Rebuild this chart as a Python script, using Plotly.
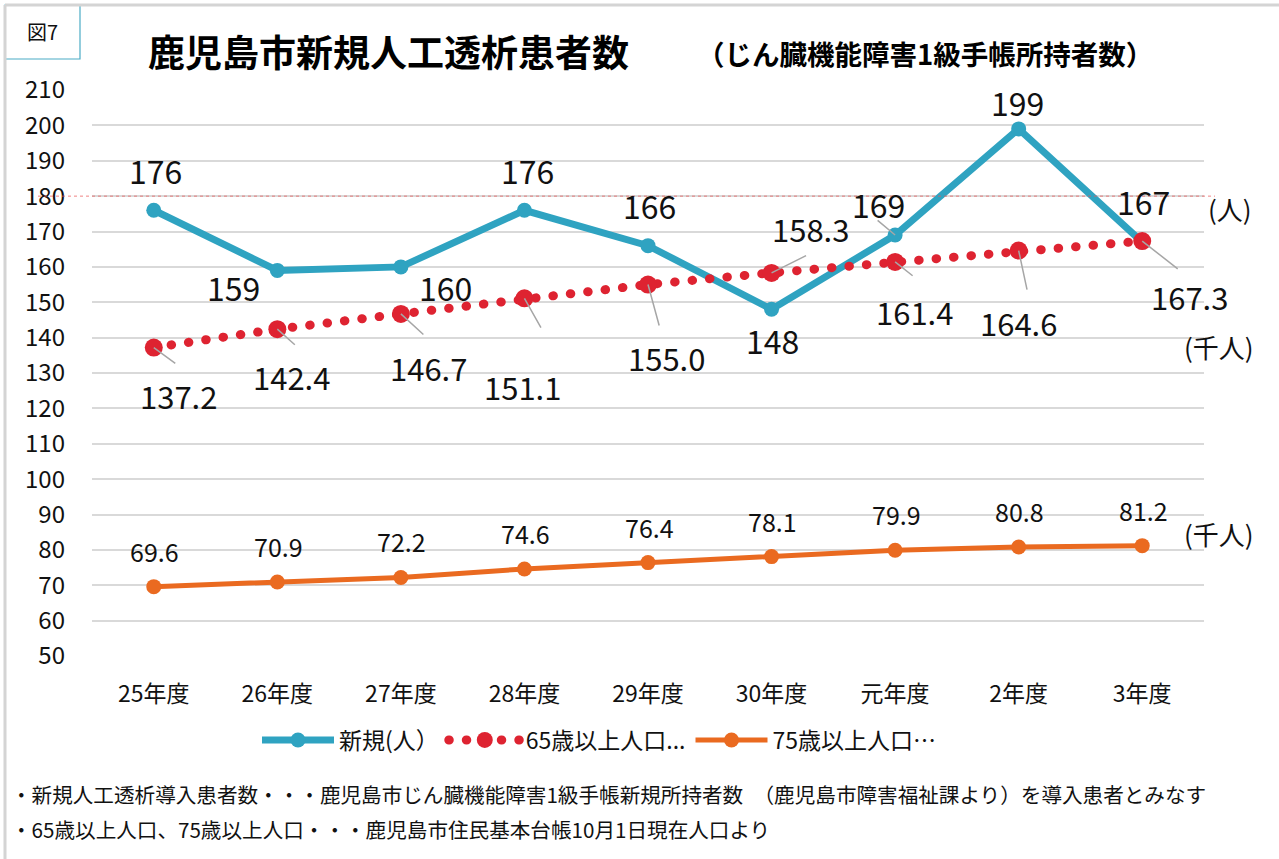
import plotly.graph_objects as go

# ---------------- data ----------------
categories = ["25年度", "26年度", "27年度", "28年度", "29年度", "30年度", "元年度", "2年度", "3年度"]
new_patients = [176, 159, 160, 176, 166, 148, 169, 199, 167]          # 新規(人)
pop_65 = [137.2, 142.4, 146.7, 151.1, 155.0, 158.3, 161.4, 164.6, 167.3]  # 65歳以上人口(千人)
pop_75 = [69.6, 70.9, 72.2, 74.6, 76.4, 78.1, 79.9, 80.8, 81.2]          # 75歳以上人口(千人)
y_ticks = list(range(50, 211, 10))

# ---------------- styling ----------------
W, H = 1279, 859
L, R, T, B = 92, 1204, 90, 656
FONT = "Noto Sans CJK JP"
TEAL, RED, ORANGE = "#2FA3C1", "#DE2331", "#EA6A20"
GRID = "#D9D9D9"
LEADER = "#A6A6A6"


def PX(x):
    return (x - L) / (R - L)


def PY(y):
    return (B - y) / (B - T)


fig = go.Figure()
fig.add_trace(go.Scatter(x=categories, y=new_patients, name="新規(人）", mode="lines+markers",
                         line=dict(color=TEAL, width=7), marker=dict(size=15, color=TEAL)))
fig.add_trace(go.Scatter(x=categories, y=pop_65, name="65歳以上人口...", mode="lines+markers",
                         line=dict(color=RED, width=9, dash="0.5px,17px"),
                         marker=dict(size=18, color=RED)))
fig.add_trace(go.Scatter(x=categories, y=pop_75, name="75歳以上人口…", mode="lines+markers",
                         line=dict(color=ORANGE, width=5), marker=dict(size=15, color=ORANGE)))

ann = []
# 新規 labels: (xshift, yshift in screen px, down positive)
new_off = [(2, -40), (-44, 17), (45, 20), (3, -40), (1, -41), (1, 31), (-17, -31), (-1, -27), (1, -41)]
for c, v, (dx, dy) in zip(categories, new_patients, new_off):
    ann.append(dict(x=c, y=v, xref="x", yref="y", text=str(v), showarrow=False,
                    xanchor="center", yanchor="middle",
                    xshift=dx, yshift=-dy, font=dict(size=32, color="#111", family=FONT)))
# leader for 169
ann.append(dict(x=categories[6], y=new_patients[6], xref="x", yref="y", text=" ", showarrow=True,
                ax=-19, ay=-16, arrowhead=0, arrowwidth=1.5, arrowcolor=LEADER, standoff=0,
                font=dict(size=2)))

# 65 labels
p65_off = [(25, 48), (14, 47), (28, 54), (-2, 88), (18, 73), (39, -44), (19, 50), (0, 72), (47, 55)]
p65_lead = [(23, 17), (19, 17), (24, 22), (18, 32), (12, 44), (36, -18), (19, 15), (9, 42), (37, 29)]
for c, v, (dx, dy), (lx, ly) in zip(categories, pop_65, p65_off, p65_lead):
    ann.append(dict(x=c, y=v, xref="x", yref="y", text=f"{v:.1f}", showarrow=False,
                    xanchor="center", yanchor="middle",
                    xshift=dx, yshift=-dy, font=dict(size=31, color="#111", family=FONT)))
    ann.append(dict(x=c, y=v, xref="x", yref="y", text=" ", showarrow=True, ax=lx, ay=ly,
                    arrowhead=0, arrowwidth=1.5, arrowcolor=LEADER, standoff=0,
                    font=dict(size=2)))

# 75 labels
for c, v in zip(categories, pop_75):
    ann.append(dict(x=c, y=v, xref="x", yref="y", text=f"{v:.1f}", showarrow=False,
                    xanchor="center", yanchor="middle",
                    xshift=1, yshift=36, font=dict(size=25, color="#111", family=FONT)))

# units
for ux, uy, ut in [(1230, 208, "(人)"), (1219, 346, "(千人)"), (1219, 533, "(千人)")]:
    ann.append(dict(x=PX(ux), y=PY(uy), xref="paper", yref="paper", text=ut, showarrow=False,
                    xanchor="center", yanchor="middle",
                    font=dict(size=26, color="#111", family=FONT)))

# title texts
ann.append(dict(x=PX(146), y=PY(51), xref="paper", yref="paper", xanchor="left", yanchor="middle",
                text="<b>鹿児島市新規人工透析患者数</b>", showarrow=False,
                font=dict(size=37, color="#000", family=FONT)))
ann.append(dict(x=PX(695), y=PY(53), xref="paper", yref="paper", xanchor="left", yanchor="middle",
                text="<b>（じん臓機能障害1級手帳所持者数）</b>", showarrow=False,
                font=dict(size=27.5, color="#000", family=FONT)))
ann.append(dict(x=PX(42.5), y=PY(32), xref="paper", yref="paper", xanchor="center", yanchor="middle",
                text="図7", showarrow=False,
                font=dict(size=20, color="#111", family=FONT)))

# footnotes
ann.append(dict(x=PX(9), y=PY(794), xref="paper", yref="paper", xanchor="left", yanchor="middle",
                text="・新規人工透析導入患者数・・・鹿児島市じん臓機能障害1級手帳新規所持者数　（鹿児島市障害福祉課より）を導入患者とみなす",
                showarrow=False, font=dict(size=20.6, color="#111", family=FONT)))
ann.append(dict(x=PX(9), y=PY(829), xref="paper", yref="paper", xanchor="left", yanchor="middle",
                text="・65歳以上人口、75歳以上人口・・・鹿児島市住民基本台帳10月1日現在人口より",
                showarrow=False, font=dict(size=20.6, color="#111", family=FONT)))

shapes = [
    # frame
    dict(type="line", xref="paper", yref="paper", x0=PX(5), x1=PX(1279), y0=PY(5), y1=PY(5),
         line=dict(color="#D4D4D4", width=3)),
    dict(type="line", xref="paper", yref="paper", x0=PX(5), x1=PX(5), y0=PY(5), y1=PY(859),
         line=dict(color="#D4D4D4", width=3)),
    # 図7 box
    dict(type="rect", xref="paper", yref="paper", x0=PX(5), x1=PX(80), y0=PY(5), y1=PY(59),
         line=dict(color="#4BACC6", width=1.2), fillcolor="white", layer="below"),
    # reference line at 180
    dict(type="line", xref="paper", yref="y", x0=PX(38), x1=PX(1215), y0=180, y1=180,
         line=dict(color="rgba(235,90,90,0.75)", width=1, dash="dot"), layer="above"),
]

fig.update_layout(
    width=W, height=H,
    margin=dict(l=L, r=W - R, t=T, b=H - B),
    paper_bgcolor="white", plot_bgcolor="white",
    font=dict(family=FONT, color="#111"),
    showlegend=True,
    legend=dict(orientation="h", x=PX(257), xanchor="left", y=PY(740), yanchor="middle",
                font=dict(size=23, family=FONT, color="#111"), itemwidth=72,
                bgcolor="rgba(0,0,0,0)"),
    annotations=ann,
    shapes=shapes,
    xaxis=dict(type="category", range=[-0.5, 8.5], showgrid=False, zeroline=False, showline=False,
               ticks="", tickfont=dict(size=23, family=FONT, color="#111"), ticklabelstandoff=22),
    yaxis=dict(range=[50, 210], tickvals=y_ticks, showgrid=True, gridcolor=GRID, gridwidth=1.5,
               zeroline=False, showline=False, ticks="",
               tickfont=dict(size=24, family=FONT, color="#111"), ticklabelstandoff=26),
)

post = """
document.body.style.margin = '0';
document.body.style.padding = '0';
var gd = document.getElementById('{plot_id}');
function fixstyle(){
  var tr = gd.querySelectorAll('.scatterlayer .trace');
  if (tr[1]) tr[1].querySelectorAll('path.js-line').forEach(function(p){p.style.strokeLinecap='round';});
  var lg = gd.querySelectorAll('.legend .traces');
  lg.forEach(function(t, i){
    t.querySelectorAll('path.js-line').forEach(function(p){
      p.setAttribute('d', 'M5,0h72');
      if (i === 1) p.style.strokeLinecap = 'round';
    });
    t.querySelectorAll('.legendpoints path.scatterpts').forEach(function(p){
      p.setAttribute('transform', 'translate(41,0)');
    });
  });
}
fixstyle();
if (gd.on) gd.on('plotly_afterplot', fixstyle);
"""
fig.write_html("out.html", post_script=post, config={"displayModeBar": False})
